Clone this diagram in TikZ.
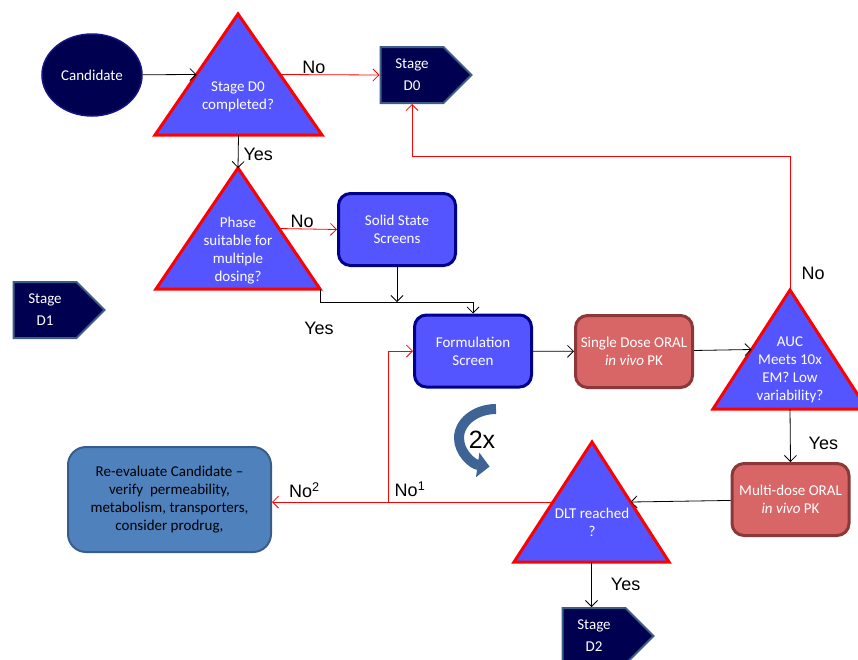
\documentclass[tikz,border=0pt]{standalone}
\usepackage{fontspec}
\setmainfont{Carlito}
\newfontfamily\arialfont{Liberation Sans}
\usetikzlibrary{arrows.meta,calc,positioning,shapes.geometric,shapes.symbols}
\definecolor{navy}{RGB}{0,0,80}
\definecolor{navyline}{RGB}{20,20,130}
\definecolor{stageline}{RGB}{62,94,134}
\definecolor{triblue}{RGB}{85,85,255}
\definecolor{boxblue}{RGB}{0,0,140}
\definecolor{pinkfill}{RGB}{217,102,102}
\definecolor{pinkline}{RGB}{140,56,56}
\definecolor{refill}{RGB}{79,129,189}
\definecolor{reline}{RGB}{56,93,138}
\definecolor{bendblue}{RGB}{62,100,150}

\begin{document}
\begin{tikzpicture}[x=1pt,y=-1pt,
    every node/.style={font=\fontsize{15}{18}\selectfont, align=center},
    arr/.style={-{Straight Barb[length=6pt,width=12pt]}, black, line width=0.8pt},
    redarr/.style={arr, red},
    lbl/.style={font=\arialfont\fontsize{18}{20}\selectfont, inner sep=1pt, text=black},
    tri/.style={fill=triblue, draw=red, line width=3pt, line join=miter},
    tritext/.style={text=white},
    bluebox/.style={rounded corners=12pt, fill=triblue, draw=boxblue, line width=3pt,
        minimum width=117pt, minimum height=72pt, text=white},
    pinkbox/.style={bluebox, fill=pinkfill, draw=pinkline},
    rebox/.style={rounded corners=18pt, fill=refill, draw=reline, line width=2pt,
        minimum width=203pt, minimum height=105pt},
    stage/.style={signal, signal to=east, signal pointer angle=90, fill=navy, draw=stageline,
        line width=2pt, minimum width=91pt, minimum height=56pt, text=white,
        font=\fontsize{15}{22}\selectfont},
    curlarrow/.style={bendblue, line width=10pt, -{Triangle[length=12pt,width=24pt]}}]
\useasboundingbox (0,0) rectangle (858,659);

\node[ellipse, fill=navy, draw=navyline, line width=1.5pt, minimum width=100pt,
    minimum height=82pt, text=white] (cand) at (92,75) {Candidate};

\draw[tri] (238,14) coordinate (q1a) -- (322,135) coordinate (q1r) -- (155,135) coordinate (q1l) -- cycle;
\node[tritext] (q1) at (238,97) {Stage D0\\completed?};
\draw[tri] (238,168) coordinate (q2a) -- (320,289) coordinate (q2r) -- (156,289) coordinate (q2l) -- cycle;
\node[tritext] (q2) at (238,251) {Phase\\suitable for\\multiple\\dosing?};
\draw[tri] (790,290) coordinate (q3a) -- (867,409) coordinate (q3r) -- (713,409) coordinate (q3l) -- cycle;
\node[tritext] (q3) at (790,369.5) {AUC\\Meets 10x\\EM? Low\\variability?};
\draw[tri] (592,442) coordinate (q4a) -- (669,562) coordinate (q4r) -- (514,562) coordinate (q4l) -- cycle;
\node[tritext] (q4) at (592,522) {DLT reached\\?};

\node[stage] (d0) at (412,75) {Stage\\D0};
\node[stage] (d1) at (45,310) {Stage\\D1};
\node[stage] (d2) at (594,636) {Stage\\D2};

\node[bluebox] (sss) at (397,229.5) {Solid State\\Screens};
\node[bluebox] (fs) at (473,351) {Formulation\\Screen};
\node[pinkbox] (sd) at (634,351.5) {Single Dose ORAL\\\textit{in vivo} PK};
\node[pinkbox] (md) at (790.5,499.5) {Multi-dose ORAL\\\textit{in vivo} PK};
\node[rebox] (re) at (169.5,499.5) {Re-evaluate Candidate --\\verify\ \ permeability,\\metabolism, transporters,\\consider prodrug,};

\draw[arr] (cand) -- ($(q1a)!0.5!(q1l)$);
\draw[redarr] ($(q1a)!0.5!(q1r)$) -- (d0.west) node[lbl, pos=0.34, above] (no1) {No};
\draw[arr] ($(q1l)!0.5!(q1r)$) -- (q2a) node[lbl, pos=0.6, right=4pt] (yes1) {Yes};
\draw[redarr] ($(q2a)!0.5!(q2r)$) -- (sss.west) node[lbl, pos=0.4, above] (no2) {No};
\draw[arr] (q2r) -- ++(0,13) coordinate (mrg) -| (fs.north);
\draw[arr] (sss.south) -- (sss.south |- mrg);
\node[lbl] (yes2) at (319,328) {Yes};
\draw[arr] (fs) -- (sd);
\draw[arr] (sd) -- ($(q3a)!0.5!(q3l)$);
\draw[redarr] (q3a) -- ++(0,-134) -| (d0.south);
\node[lbl] (no3) at (813,273) {No};
\draw[arr] ($(q3l)!0.5!(q3r)$) -- (md.north) node[lbl, pos=0.65, right=17pt] (yes3) {Yes};
\draw[arr] (md) -- ($(q4a)!0.5!(q4r)$);
\draw[redarr] ($(q4a)!0.5!(q4l)$) -- ++(-165,0) coordinate (brk) |- (fs.west);
\node[lbl] (no4) at (410,489) {No\textsuperscript{1}};
\draw[redarr] (brk) -- (brk -| re.east) node[lbl, pos=0.72, above=3pt] (no5) {No\textsuperscript{2}};
\draw[arr] ($(q4l)!0.5!(q4r)$) coordinate (q4b) -- (q4b |- d2.north) node[lbl, pos=0.5, right=18pt] (yes4) {Yes};

\draw[curlarrow] (496,409) arc (270:100:37 and 29);
\node[font=\arialfont\fontsize{25}{25}\selectfont] (twox) at (482,440) {2x};
\end{tikzpicture}
\end{document}
